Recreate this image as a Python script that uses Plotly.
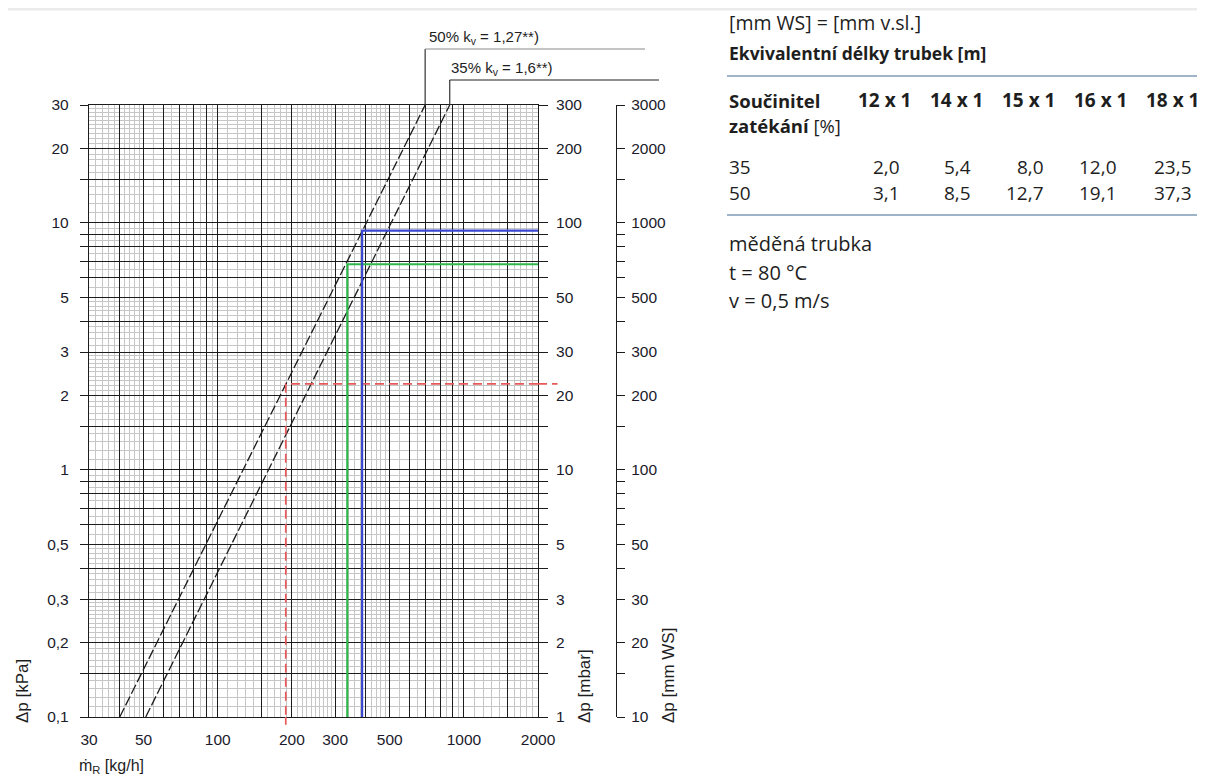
import math
import plotly.graph_objects as go

# ---------------- data ----------------
x_tick_vals = [30, 50, 100, 200, 300, 500, 1000, 2000]
x_tick_text = ["30", "50", "100", "200", "300", "500", "1000", "2000"]

kpa_tick_vals = [0.1, 0.2, 0.3, 0.5, 1, 2, 3, 5, 10, 20, 30]
kpa_tick_text = ["0,1", "0,2", "0,3", "0,5", "1", "2", "3", "5", "10", "20", "30"]
mbar_tick_vals = [1, 2, 3, 5, 10, 20, 30, 50, 100, 200, 300]
mbar_tick_text = ["1", "2", "3", "5", "10", "20", "30", "50", "100", "200", "300"]
mmws_tick_vals = [10, 20, 30, 50, 100, 200, 300, 500, 1000, 2000, 3000]
mmws_tick_text = ["10", "20", "30", "50", "100", "200", "300", "500", "1000", "2000", "3000"]

# characteristic lines
kv50_x = [40, 696]
kv50_y = [0.1, 30]
kv35_x = [51, 876]
kv35_y = [0.1, 30]
blue_x = [2000, 386, 386]
blue_y = [9.3, 9.3, 0.1]
green_x = [2000, 336, 336]
green_y = [6.8, 6.8, 0.1]
red_x = [2000, 189, 189]
red_y = [2.23, 2.23, 0.1]
red_end_x = 2400      # the red guide runs a little past the right axis
red_end_y = 0.093     # ...and a little below the bottom axis

label50 = "50% k<sub>v</sub> = 1,27**)"
label35 = "35% k<sub>v</sub> = 1,6**)"

# table
col_heads = ["12 x 1", "14 x 1", "15 x 1", "16 x 1", "18 x 1"]
row_heads = ["35", "50"]
row35 = ["2,0", "5,4", "8,0", "12,0", "23,5"]
row50 = ["3,1", "8,5", "12,7", "19,1", "37,3"]

# grid mantissas (log paper)
major_mant = [1, 1.5, 2, 3, 4, 5, 6, 7, 8, 9]
minor_mant = [1.1, 1.2, 1.3, 1.4, 1.6, 1.7, 1.8, 1.9,
              2.1, 2.2, 2.3, 2.4, 2.5, 2.6, 2.7, 2.8, 2.9,
              3.2, 3.4, 3.6, 3.8,
              4.2, 4.4, 4.6, 4.8,
              5.5, 6.5, 7.5, 8.5, 9.5]
decades = [0.01, 0.1, 1, 10, 100, 1000]

X_MIN, X_MAX = 30, 2000
Y_MIN, Y_MAX = 0.1, 30


def grid(mants, lo, hi):
    out = []
    for d in decades:
        for m in mants:
            v = round(m * d, 6)
            if lo - 1e-9 <= v <= hi + 1e-9:
                out.append(v)
    return sorted(set(out))


x_major = grid(major_mant, X_MIN, X_MAX)
x_minor = grid(minor_mant, X_MIN, X_MAX)
y_major = grid(major_mant, Y_MIN, Y_MAX)
y_minor = grid(minor_mant, Y_MIN, Y_MAX)


def labels_for(vals, lab_vals, lab_text):
    d = {round(v, 6): t for v, t in zip(lab_vals, lab_text)}
    return [d.get(round(v, 6), "") for v in vals]


# ---------------- layout geometry ----------------
BODY = 8                     # default page margin of the html body
W_FIG, H_FIG = 1205 - BODY, 778 - BODY
PL, PT = 89, 105             # plot-area corner on the page
PLOT_W, PLOT_H = 449, 612
PAPER_W = 611                # paper spans 89..700 px on the page
ML, MT = PL - BODY, PT - BODY
MR = W_FIG - ML - PAPER_W
MB = H_FIG - MT - PLOT_H
XDOM = PLOT_W / PAPER_W


def px(xpix):
    return (xpix - PL) / PAPER_W


def py(ypix):
    return (PT + PLOT_H - ypix) / PLOT_H


def data_xpaper(v):
    return math.log10(v / X_MIN) / math.log10(X_MAX / X_MIN) * XDOM


def data_ypaper(v):
    return math.log10(v / Y_MIN) / math.log10(Y_MAX / Y_MIN)


BLACK = "#1c1c1c"
GRAY = "#c6c6c6"
RED = "#e8585a"
CHART_FONT = "Liberation Sans, Arial, sans-serif"
TEXT_FONT = "Open Sans, Noto Sans, sans-serif"

fig = go.Figure()

fig.add_trace(go.Scatter(x=kv50_x, y=kv50_y, mode="lines",
                         line=dict(color=BLACK, width=1.3, dash="10px,3px"),
                         hoverinfo="skip", showlegend=False))
fig.add_trace(go.Scatter(x=kv35_x, y=kv35_y, mode="lines",
                         line=dict(color=BLACK, width=1.3, dash="10px,3px"),
                         hoverinfo="skip", showlegend=False))
fig.add_trace(go.Scatter(x=red_x, y=red_y, mode="lines",
                         line=dict(color=RED, width=1.7, dash="9px,5px"),
                         hoverinfo="skip", showlegend=False))
fig.add_trace(go.Scatter(x=green_x, y=green_y, mode="lines",
                         line=dict(color="#2fb84c", width=2.2),
                         hoverinfo="skip", showlegend=False))
fig.add_trace(go.Scatter(x=blue_x, y=blue_y, mode="lines",
                         line=dict(color="#3a48d0", width=2.2),
                         hoverinfo="skip", showlegend=False))
# dummy traces so secondary axes are rendered
fig.add_trace(go.Scatter(x=[None], y=[None], yaxis="y2", showlegend=False, hoverinfo="skip"))
fig.add_trace(go.Scatter(x=[None], y=[None], yaxis="y3", showlegend=False, hoverinfo="skip"))

tickfont = dict(family=CHART_FONT, size=15.5, color="#1a1a2a")

fig.update_layout(
    width=W_FIG, height=H_FIG,
    margin=dict(l=ML, r=MR, t=MT, b=MB, pad=0),
    paper_bgcolor="white", plot_bgcolor="white",
    showlegend=False,
    xaxis=dict(
        type="log", range=[math.log10(X_MIN), math.log10(X_MAX)], domain=[0, XDOM],
        tickmode="array", tickvals=x_major,
        ticktext=labels_for(x_major, x_tick_vals, x_tick_text),
        ticks="", tickfont=tickfont, ticklabelstandoff=8,
        showgrid=True, gridcolor=BLACK, gridwidth=1.3,
        showline=True, linecolor=BLACK, linewidth=1.3, mirror=True,
        zeroline=False,
        minor=dict(tickmode="array", tickvals=x_minor, showgrid=True,
                   gridcolor=GRAY, gridwidth=1.2, ticks=""),
    ),
    yaxis=dict(
        type="log", range=[math.log10(Y_MIN), math.log10(Y_MAX)], domain=[0, 1],
        tickmode="array", tickvals=y_major,
        ticktext=labels_for(y_major, kpa_tick_vals, kpa_tick_text),
        ticks="outside", ticklen=8, tickwidth=1.3, tickcolor=BLACK,
        tickfont=tickfont, ticklabelstandoff=8,
        showgrid=True, gridcolor=BLACK, gridwidth=1.3,
        showline=True, linecolor=BLACK, linewidth=1.3, mirror=True,
        zeroline=False,
        minor=dict(tickmode="array", tickvals=y_minor, showgrid=True,
                   gridcolor=GRAY, gridwidth=1.2, ticks=""),
    ),
    yaxis2=dict(
        type="log", range=[0, math.log10(300)], overlaying="y", side="right", anchor="x",
        tickmode="array", tickvals=[v * 10 for v in y_major],
        ticktext=labels_for([v * 10 for v in y_major], mbar_tick_vals, mbar_tick_text),
        ticks="outside", ticklen=9, tickwidth=1.3, tickcolor=BLACK,
        tickfont=tickfont, ticklabelstandoff=5,
        showgrid=False, showline=False, zeroline=False,
    ),
    yaxis3=dict(
        type="log", range=[1, math.log10(3000)], overlaying="y", side="right",
        anchor="free", position=px(616),
        tickmode="array", tickvals=[v * 100 for v in y_major],
        ticktext=labels_for([v * 100 for v in y_major], mmws_tick_vals, mmws_tick_text),
        ticks="outside", ticklen=8, tickwidth=1.3, tickcolor=BLACK,
        tickfont=tickfont, ticklabelstandoff=3,
        showgrid=False, showline=True, linecolor=BLACK, linewidth=1.3, zeroline=False,
    ),
)

shapes = []
# red guide overhang beyond the axes
shapes.append(dict(type="line", xref="paper", yref="paper",
                   x0=XDOM, x1=data_xpaper(red_end_x),
                   y0=data_ypaper(red_y[0]), y1=data_ypaper(red_y[0]),
                   line=dict(color=RED, width=1.7, dash="9px,5px")))
shapes.append(dict(type="line", xref="paper", yref="paper",
                   x0=data_xpaper(red_x[-1]), x1=data_xpaper(red_x[-1]),
                   y0=0, y1=data_ypaper(red_end_y),
                   line=dict(color=RED, width=1.7)))
# leader lines for the kv labels
top50 = py(49)
top35 = py(80)
shapes.append(dict(type="line", xref="paper", yref="paper",
                   x0=data_xpaper(kv50_x[-1]), x1=data_xpaper(kv50_x[-1]), y0=1, y1=top50,
                   line=dict(color="#333", width=1.2)))
shapes.append(dict(type="line", xref="paper", yref="paper",
                   x0=data_xpaper(kv50_x[-1]), x1=px(645), y0=top50, y1=top50,
                   line=dict(color="#8a8a8a", width=1.2)))
shapes.append(dict(type="line", xref="paper", yref="paper",
                   x0=data_xpaper(kv35_x[-1]), x1=data_xpaper(kv35_x[-1]), y0=1, y1=top35,
                   line=dict(color="#333", width=1.2)))
shapes.append(dict(type="line", xref="paper", yref="paper",
                   x0=data_xpaper(kv35_x[-1]), x1=px(659), y0=top35, y1=top35,
                   line=dict(color="#222", width=1.2)))
# page separator on top
shapes.append(dict(type="line", xref="paper", yref="paper",
                   x0=px(0), x1=px(1205), y0=py(9), y1=py(9),
                   line=dict(color="#ebebeb", width=3)))
# table rules
shapes.append(dict(type="line", xref="paper", yref="paper",
                   x0=px(727), x1=px(1205), y0=py(76), y1=py(76),
                   line=dict(color="#7f9cb4", width=1.3)))
shapes.append(dict(type="line", xref="paper", yref="paper",
                   x0=px(727), x1=px(1205), y0=py(215), y1=py(215),
                   line=dict(color="#7f9cb4", width=1.3)))
fig.update_layout(shapes=shapes)

ann = []


def add_text(text, xpix, ypix, size, family=CHART_FONT, xanchor="left", angle=0,
             color="#1e1e1e", yanchor="middle"):
    ann.append(dict(text=text, xref="paper", yref="paper", x=px(xpix), y=py(ypix),
                    xanchor=xanchor, yanchor=yanchor, showarrow=False, textangle=angle,
                    font=dict(family=family, size=size, color=color)))


add_text(label50, 427, 38, 15)
add_text(label35, 449, 69, 15)
add_text("Δp [kPa]", 22, 691, 17, xanchor="center", angle=-90)
add_text("Δp [mbar]", 584, 686, 17, xanchor="center", angle=-90)
add_text("Δp [mm WS]", 668, 676, 17, xanchor="center", angle=-90)
add_text("ṁ<sub>R</sub> [kg/h]", 77, 766, 16)

# right-hand text block
add_text("[mm WS] = [mm v.sl.]", 727, 22, 19.5, family=TEXT_FONT)
add_text("<b>Ekvivalentní délky trubek [m]</b>", 727, 53, 17.5, family=TEXT_FONT)
add_text("<b>Součinitel</b>", 727, 100, 18.5, family=TEXT_FONT)
add_text("<b>zatékání</b> [%]", 727, 125, 18.5, family=TEXT_FONT)
head_right = [913, 985, 1057, 1129, 1201]
val_right = [902, 973, 1046, 1119, 1194]
for t, xr in zip(col_heads, head_right):
    add_text("<b>" + t + "</b>", xr, 100, 19, family=TEXT_FONT, xanchor="right")
for rh, vals, yy in [(row_heads[0], row35, 167), (row_heads[1], row50, 193)]:
    add_text(rh, 727, yy, 19, family=TEXT_FONT)
    for v, xr in zip(vals, val_right):
        add_text(v, xr, yy, 19, family=TEXT_FONT, xanchor="right")
add_text("měděná trubka", 727, 244, 20, family=TEXT_FONT)
add_text("t = 80 °C", 727, 272, 20, family=TEXT_FONT)
add_text("v = 0,5 m/s", 727, 300, 20, family=TEXT_FONT)

fig.update_layout(annotations=ann)

fig.write_html("out.html")
